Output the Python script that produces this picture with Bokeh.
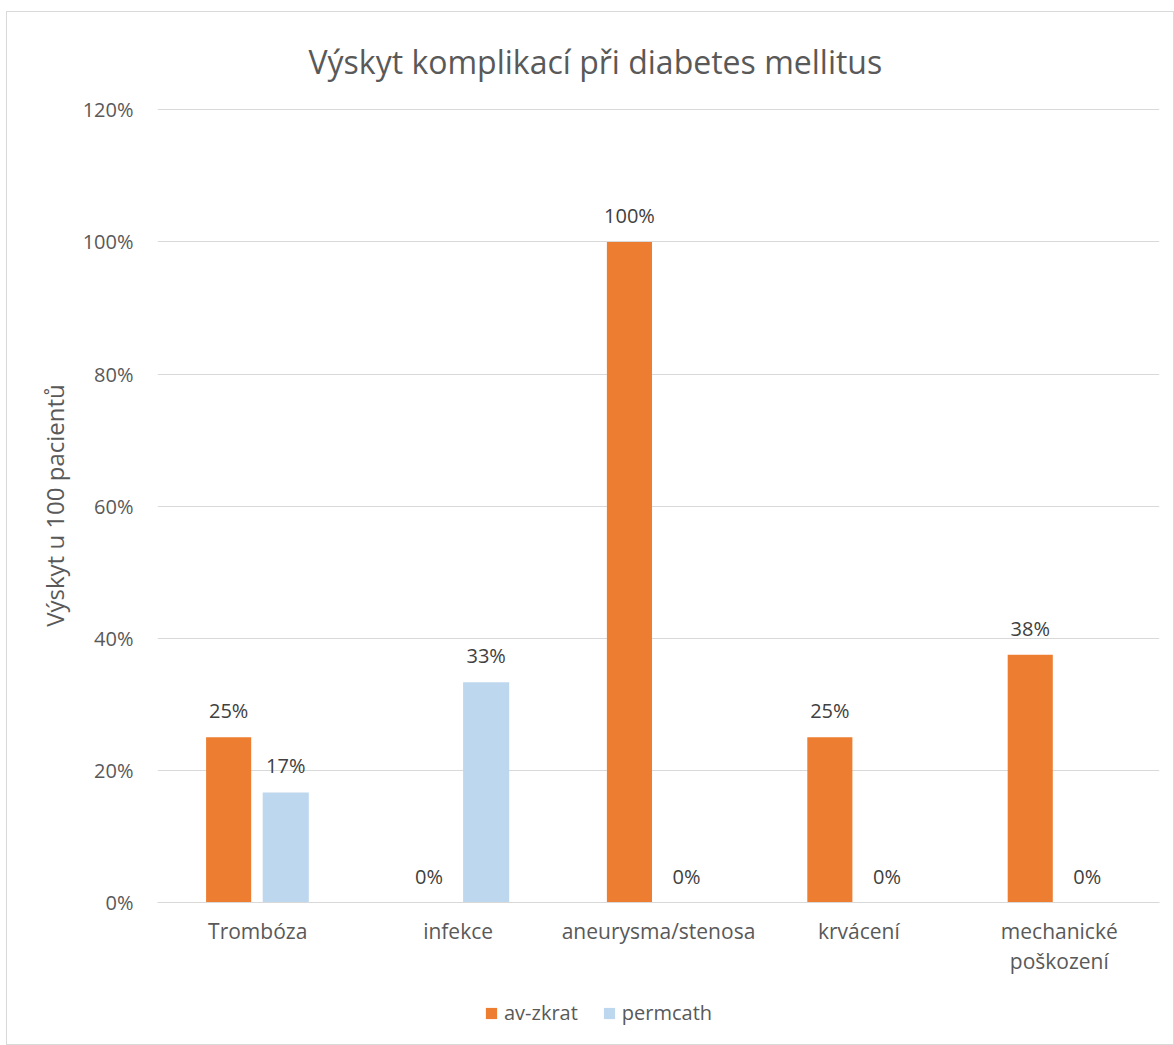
from bokeh.plotting import figure
from bokeh.layouts import column
from bokeh.models import (ColumnDataSource, NumeralTickFormatter, Legend,
                          LegendItem, Range1d, LinearAxis, FixedTicker)
from bokeh.transform import dodge
from bokeh.embed import file_html
from bokeh.resources import INLINE
from bokeh.core.properties import value

categories = ["Trombóza", "infekce", "aneurysma/stenosa", "krvácení", "mechanické poškození"]
label_line1 = ["Trombóza", "infekce", "aneurysma/stenosa", "krvácení", "mechanické"]
label_line2 = ["", "", "", "", "poškození"]
av_zkrat = [0.25, 0.0, 1.0, 0.25, 0.375]
permcath = [0.1667, 0.3333, 0.0, 0.0, 0.0]
series_names = ["av-zkrat", "permcath"]
y_ticks = [0, 0.2, 0.4, 0.6, 0.8, 1.0, 1.2]

FONT = "Open Sans"
ORANGE = "#ED7D31"
BLUE = "#BDD7EE"
TXT = "#595959"

xpos = [i + 0.5 for i in range(len(categories))]

src = ColumnDataSource(dict(
    x=xpos,
    cat=categories,
    av=av_zkrat,
    pc=permcath,
    av_lbl=[f"{v:.0%}" for v in av_zkrat],
    pc_lbl=[f"{v:.0%}" for v in permcath],
))

p = figure(x_range=Range1d(0, len(categories)), y_range=Range1d(0, 1.202),
           width=1166, height=979, output_backend="svg", toolbar_location=None,
           x_axis_location=None,
           min_border_left=150, min_border_right=14, min_border_top=96, min_border_bottom=89)

p.title.text = "Výskyt komplikací při diabetes mellitus"
p.title.text_font = FONT
p.title.text_font_size = "32px"
p.title.text_font_style = "normal"
p.title.text_color = TXT
p.title.align = "left"
p.title.offset = 151
p.title.standoff = 51

p.vbar(x=dodge("x", -0.145), top="av", width=0.225, source=src,
       fill_color=ORANGE, line_color=None)
p.vbar(x=dodge("x", 0.14), top="pc", width=0.23, source=src,
       fill_color=BLUE, line_color=None)

p.text(x=dodge("x", -0.145), y="av", text="av_lbl", source=src,
       text_align="center", text_baseline="bottom", y_offset=-13,
       text_font=value(FONT), text_font_size="20px", text_color="#404040")
p.text(x=dodge("x", 0.14), y="pc", text="pc_lbl", source=src,
       text_align="center", text_baseline="bottom", y_offset=-13,
       text_font=value(FONT), text_font_size="20px", text_color="#404040")

p.yaxis.ticker = y_ticks
p.yaxis.formatter = NumeralTickFormatter(format="0%")
p.yaxis.axis_line_color = None
p.yaxis.major_tick_line_color = None
p.yaxis.minor_tick_line_color = None
p.yaxis.major_label_text_font = FONT
p.yaxis.major_label_text_font_size = "20px"
p.yaxis.major_label_text_color = TXT
p.yaxis.major_label_standoff = 18
p.yaxis.axis_label = "Výskyt u 100 pacientů"
p.yaxis.axis_label_text_font = FONT
p.yaxis.axis_label_text_font_size = "24px"
p.yaxis.axis_label_text_font_style = "normal"
p.yaxis.axis_label_text_color = TXT
p.yaxis.axis_label_standoff = 9

ax1 = LinearAxis(ticker=FixedTicker(ticks=xpos),
                 major_label_overrides=dict(zip(xpos, label_line1)),
                 axis_line_color="#D9D9D9", major_tick_line_color=None,
                 minor_tick_line_color=None, major_label_standoff=8,
                 major_label_text_font=FONT, major_label_text_font_size="21px",
                 major_label_text_color=TXT)
p.add_layout(ax1, "below")

line2_ticks = [x for x, s in zip(xpos, label_line2) if s]
ax2 = LinearAxis(ticker=FixedTicker(ticks=line2_ticks),
                 major_label_overrides={x: s for x, s in zip(xpos, label_line2) if s},
                 axis_line_color=None, major_tick_line_color=None,
                 minor_tick_line_color=None, major_label_standoff=-7,
                 major_label_text_font=FONT, major_label_text_font_size="21px",
                 major_label_text_color=TXT)
p.add_layout(ax2, "below")

p.xgrid.grid_line_color = None
p.ygrid.grid_line_color = "#D9D9D9"
p.outline_line_color = None

# legend strip below the chart (its bars lie outside its visible ranges; only the legend shows)
pl = figure(x_range=Range1d(100, 101), y_range=Range1d(100, 101), width=1166, height=53,
            output_backend="svg", toolbar_location=None,
            x_axis_location=None, y_axis_location=None,
            min_border_left=0, min_border_right=0, min_border_top=0, min_border_bottom=0)
pl.xgrid.visible = False
pl.ygrid.visible = False
pl.outline_line_color = None
g1 = pl.vbar(x="x", top="av", width=0.225, source=src, fill_color=ORANGE, line_color=None)
g2 = pl.vbar(x="x", top="pc", width=0.23, source=src, fill_color=BLUE, line_color=None)
legend = Legend(items=[LegendItem(label=series_names[0], renderers=[g1]),
                       LegendItem(label=series_names[1], renderers=[g2])],
                orientation="horizontal", location=(327, 18),
                label_text_font=FONT, label_text_font_size="20px", label_text_color=TXT,
                glyph_width=14, glyph_height=14, spacing=24, label_standoff=6,
                border_line_color=None, background_fill_alpha=0, margin=0, padding=0)
pl.add_layout(legend, "center")

layout = column(p, pl, spacing=0)
layout.margin = (11, 0, 0, 6)
layout.styles = {"border": "1px solid #D9D9D9"}

open("out.html", "w").write(file_html(layout, INLINE))
